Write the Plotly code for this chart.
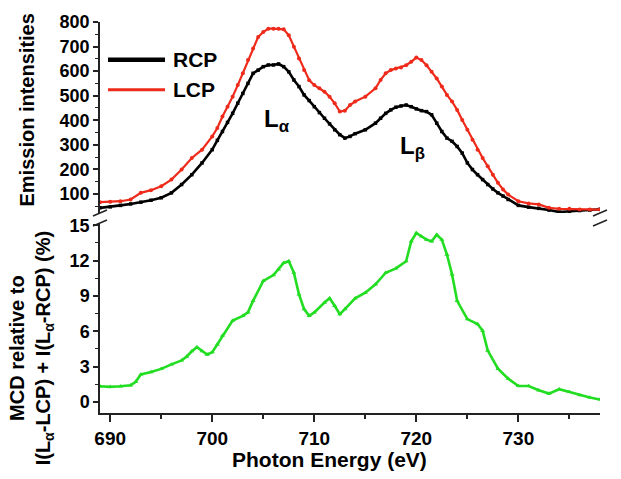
import plotly.graph_objects as go

# Emission spectra (top panel)
energy = [689, 690, 691, 692, 693, 694, 695, 696, 697, 698, 699, 700, 700.5, 701, 701.5,
          702, 702.5, 703, 703.5, 704, 704.5, 705, 705.5, 706, 706.5, 707, 707.5, 708,
          708.5, 709, 709.5, 710, 710.5, 711, 711.5, 712, 712.5, 713, 713.5, 714, 715,
          716, 716.5, 717, 717.5, 718, 718.5, 719, 719.5, 720, 720.5, 721, 721.5, 722,
          722.5, 723, 723.5, 724, 724.5, 725, 725.5, 726, 726.5, 727, 727.5, 728, 728.5,
          729, 730, 731, 732, 733, 734, 735, 736, 737, 738]
lcp = [66, 68, 70, 77, 104, 115, 131, 158, 199, 246, 280, 334, 368, 415, 455,
       496, 543, 591, 645, 692, 739, 759, 773, 773, 773, 770, 746, 699,
       651, 604, 563, 543, 530, 516, 496, 469, 435, 439, 462, 476, 496,
       530, 564, 591, 604, 611, 615, 624, 638, 655, 645, 624, 597, 570,
       537, 503, 476, 442, 401, 361, 320, 280, 246, 212, 178, 145, 118,
       97, 70, 61, 57, 43, 39, 39, 36, 36, 36]
rcp = [43, 47, 53, 59, 66, 74, 84, 104, 138, 178, 226, 280, 318, 354, 391,
       428, 469, 509, 550, 591, 604, 618, 625, 625, 629, 618, 597, 564,
       537, 503, 480, 455, 431, 408, 385, 361, 341, 327, 334, 345, 361,
       388, 408, 428, 442, 453, 458, 462, 455, 446, 439, 435, 422, 388,
       354, 327, 314, 293, 266, 226, 199, 178, 158, 138, 120, 104, 91,
       77, 53, 46, 41, 34, 26, 28, 32, 34, 37]

# MCD ratio (bottom panel)
mcd_energy = [689, 690, 691, 692, 692.5, 693, 694, 695, 696, 697, 697.5, 698, 698.5, 699,
              699.5, 700, 700.5, 701, 702, 703, 703.5, 704, 705, 706, 706.5, 707, 707.5,
              708, 708.5, 709, 709.5, 710, 711, 711.5, 712, 712.5, 713, 714, 715, 716, 717,
              718, 719, 719.5, 720, 720.5, 721, 721.5, 722, 722.5, 723, 723.5, 724, 725,
              726, 726.5, 727, 728, 729, 730, 731, 732, 733, 734, 735, 736, 737, 738]
mcd = [1.32, 1.27, 1.32, 1.4, 1.7, 2.33, 2.53, 2.8, 3.18, 3.52, 3.85, 4.3, 4.64, 4.3,
       4.02, 4.22, 4.87, 5.63, 6.9, 7.31, 7.6, 8.58, 10.27, 10.77, 11.25, 11.8, 11.95,
       10.97, 9.14, 7.88, 7.31, 7.6, 8.44, 8.8, 8.16, 7.45, 7.88, 8.8, 9.28, 9.99, 10.97,
       11.34, 11.95, 13.64, 14.35, 14.06, 13.78, 13.64, 14.2, 13.78, 12.52, 10.83, 8.58, 7.03,
       6.61, 6.05, 4.36, 2.81, 1.97, 1.35, 1.35, 0.98, 0.70, 1.07, 0.84, 0.56, 0.37, 0.2]

x_ticks = [690, 700, 710, 720, 730]

FONT = "Liberation Sans, Arial, sans-serif"
AX = "#222222"
BLACK = "black"
RED = "#ee2a1a"
GREEN = "#22dd22"

fig = go.Figure()
fig.add_trace(go.Scatter(x=energy, y=rcp, name="RCP", mode="lines+markers",
                         line=dict(color=BLACK, width=2.6),
                         marker=dict(symbol="square", size=3.5, color=BLACK),
                         xaxis="x", yaxis="y"))
fig.add_trace(go.Scatter(x=energy, y=lcp, name="LCP", mode="lines+markers",
                         line=dict(color=RED, width=2.2),
                         marker=dict(symbol="circle", size=4, color=RED),
                         xaxis="x", yaxis="y"))
fig.add_trace(go.Scatter(x=mcd_energy, y=mcd, name="MCD", mode="lines+markers",
                         line=dict(color=GREEN, width=2.6),
                         marker=dict(symbol="triangle-up", size=4.5, color=GREEN),
                         xaxis="x", yaxis="y2"))

tickfont = dict(family=FONT, size=18, color="black", weight="bold")
top_dom = [0.5115, 1.0]
bot_dom = [0.0, 0.486]

fig.update_layout(
    width=621, height=479,
    margin=dict(l=100, r=21, t=20, b=66),
    plot_bgcolor="white", paper_bgcolor="white",
    font=dict(family=FONT, color="black"),
    showlegend=False,
    xaxis=dict(domain=[0, 1], anchor="y2", range=[689, 738], tickvals=x_ticks,
               ticks="outside", ticklen=7, tickwidth=1.5, tickcolor=AX,
               minor=dict(dtick=5, tick0=690, ticks="outside", ticklen=4, tickwidth=1.5, tickcolor=AX),
               showline=True, linecolor=AX, linewidth=1.5, showgrid=False, zeroline=False,
               tickfont=dict(family=FONT, size=19, color="black", weight="bold")),
    xaxis2=dict(overlaying="x", anchor="y", side="top", range=[689, 738],
                dtick=5, tick0=690, ticks="inside", ticklen=6, tickwidth=1.5, tickcolor=AX,
                showticklabels=False, showline=True, linecolor=AX, linewidth=1.5,
                showgrid=False, zeroline=False),
    yaxis=dict(domain=top_dom, anchor="x", range=[22, 800], dtick=100, tick0=0,
               ticks="outside", ticklen=5, tickwidth=1.5, tickcolor=AX,
               minor=dict(dtick=50, tick0=0, ticks="outside", ticklen=3, tickwidth=1.2, tickcolor=AX),
               showline=True, linecolor=AX, linewidth=1.5, showgrid=False, zeroline=False,
               tickfont=tickfont),
    yaxis3=dict(overlaying="y", anchor="x", side="right", range=[22, 800], dtick=100, tick0=0,
                ticks="inside", ticklen=6, tickwidth=1.5, tickcolor=AX,
                showticklabels=False, showline=True, linecolor=AX, linewidth=1.5,
                showgrid=False, zeroline=False),
    yaxis2=dict(domain=bot_dom, anchor="x", range=[-0.95, 15.2], dtick=3, tick0=0,
                ticks="outside", ticklen=5, tickwidth=1.5, tickcolor=AX,
                minor=dict(dtick=1.5, tick0=0, ticks="outside", ticklen=3, tickwidth=1.2, tickcolor=AX),
                showline=True, linecolor=AX, linewidth=1.5, showgrid=False, zeroline=False,
                tickfont=tickfont),
    yaxis4=dict(overlaying="y2", anchor="x", side="right", range=[-0.95, 15.2], dtick=3, tick0=0,
                ticks="inside", ticklen=6, tickwidth=1.5, tickcolor=AX,
                minor=dict(dtick=1.5, tick0=0, ticks="inside", ticklen=4, tickwidth=1.2, tickcolor=AX),
                showticklabels=False, showline=True, linecolor=AX, linewidth=1.5,
                showgrid=False, zeroline=False),
)


def px_to_paper(px, py):
    return (px - 100) / 500, (413 - py) / 393


# axis break marks on both sides
for cx in (100, 600):
    for cy in (212, 222):
        x0, y0 = px_to_paper(cx - 7, cy + 3)
        x1, y1 = px_to_paper(cx + 7, cy - 3)
        fig.add_shape(type="line", xref="paper", yref="paper", x0=x0, y0=y0, x1=x1, y1=y1,
                      line=dict(color=AX, width=1.5))

# legend: long line samples with labels
legend_font = dict(family=FONT, size=21, color="black", weight="bold")
for label, color, width, py in (("RCP", BLACK, 4.5, 58), ("LCP", RED, 3, 88)):
    x0, y0 = px_to_paper(108, py)
    x1, _ = px_to_paper(165, py)
    fig.add_shape(type="line", xref="paper", yref="paper", x0=x0, y0=y0, x1=x1, y1=y0,
                  line=dict(color=color, width=width))
    lx, ly = px_to_paper(171, py)
    fig.add_annotation(text=label, xref="paper", yref="paper", x=lx, y=ly,
                       xanchor="left", yanchor="middle", showarrow=False, font=legend_font)

title_font = dict(family=FONT, size=20, color="black", weight="bold")
ax_, ay_ = px_to_paper(27, 109)
fig.add_annotation(text="Emission intensities", xref="paper", yref="paper", x=ax_, y=ay_,
                   xanchor="center", yanchor="middle",
                   textangle=-90, showarrow=False, font=title_font)
bx_, by_ = px_to_paper(31, 348)
fig.add_annotation(text="MCD relative to<br>I(L<sub>α</sub>-LCP) + I(L<sub>α</sub>-RCP) (%)",
                   xref="paper", yref="paper", x=bx_, y=by_, xanchor="center", yanchor="middle",
                   textangle=-90, showarrow=False, font=title_font)
tx_, ty_ = px_to_paper(329, 460)
fig.add_annotation(text="Photon Energy (eV)", xref="paper", yref="paper", x=tx_, y=ty_,
                   xanchor="center", yanchor="middle",
                   showarrow=False, font=dict(family=FONT, size=21, color="black", weight="bold"))

peak_font = dict(family=FONT, size=24, color="black", weight="bold")
fig.add_annotation(text="L<sub>α</sub>", x=704.9, y=399, xref="x", yref="y", xanchor="left",
                   yanchor="middle", showarrow=False, font=peak_font)
fig.add_annotation(text="L<sub>β</sub>", x=718.2, y=289, xref="x", yref="y", xanchor="left",
                   yanchor="middle", showarrow=False, font=peak_font)

fig.write_html("out.html")
